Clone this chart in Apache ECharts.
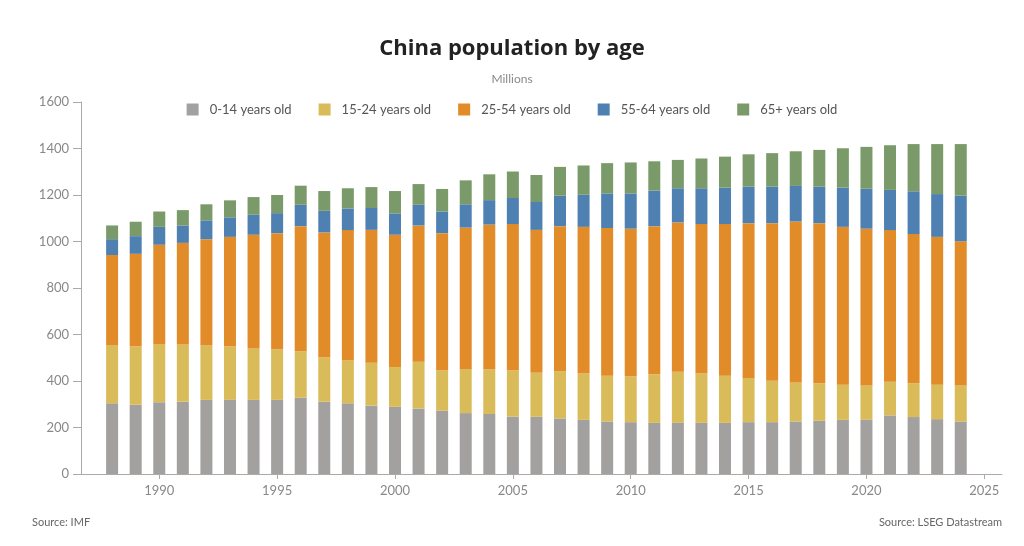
<!DOCTYPE html>
<html>
<head>
<meta charset="utf-8">
<title>China population by age</title>
<script src="https://cdn.jsdelivr.net/npm/echarts@6/dist/echarts.min.js"></script>
<style>
  html, body { margin: 0; padding: 0; background: #fff; }
  #chart { width: 1024px; height: 546px; }
</style>
</head>
<body>
<div id="chart"></div>
<script>
// population in millions
var years = ['1988', '1989', '1990', '1991', '1992', '1993', '1994', '1995', '1996', '1997', '1998', '1999',
  '2000', '2001', '2002', '2003', '2004', '2005', '2006', '2007', '2008', '2009', '2010', '2011', '2012',
  '2013', '2014', '2015', '2016', '2017', '2018', '2019', '2020', '2021', '2022', '2023', '2024'];

var age0to14 = [304, 298, 309, 311, 319, 319, 319, 319, 328, 311, 304, 294,
  289, 282, 272, 262, 258, 247, 246, 239, 233, 226, 223, 220, 220,
  220, 220, 223, 223, 226, 229, 233, 233, 252, 245, 236, 226];
var age15to24 = [251, 250, 248, 246, 235, 229, 221, 216, 200, 190, 184, 185,
  171, 201, 173, 190, 191, 198, 189, 203, 199, 197, 196, 209, 220,
  212, 203, 190, 178, 168, 162, 151, 148, 145, 146, 148, 155];
var age25to54 = [387, 399, 429, 437, 456, 472, 489, 501, 538, 538, 561, 571,
  569, 586, 591, 608, 624, 630, 615, 624, 631, 635, 636, 637, 642,
  643, 652, 666, 678, 692, 688, 679, 674, 652, 641, 636, 620];
var age55to64 = [68, 76, 77, 75, 81, 84, 86, 86, 92, 93, 93, 94,
  92, 89, 93, 100, 105, 112, 120, 131, 138, 149, 152, 153, 147,
  154, 157, 157, 157, 153, 157, 169, 172, 173, 184, 184, 196];
var age65plus = [59, 62, 66, 66, 69, 73, 76, 78, 82, 85, 87, 90,
  96, 89, 97, 103, 111, 114, 116, 124, 126, 130, 133, 126, 122,
  128, 133, 139, 144, 149, 158, 169, 180, 192, 203, 215, 222];

var seriesNames = ['0-14 years old', '15-24 years old', '25-54 years old', '55-64 years old', '65+ years old'];
var seriesColors = ['#a3a19f', '#d9bb5a', '#e28c29', '#4f80b2', '#7a9a69'];
var yearTicks = [1990, 1995, 2000, 2005, 2010, 2015, 2020, 2025];

var fontFamily = 'Lato, "Noto Sans", sans-serif';

// the visible year axis runs a bit past the bars on both sides
var W = 1024;
var plotLeft = 81, plotRight = 1002;
var xMin = 1986.68, xMax = 2025.75;
var pxPerYear = (plotRight - plotLeft) / (xMax - xMin);
// bars sit on a hidden category axis, lined up with the year axis
var firstYear = +years[0], lastYear = +years[years.length - 1];
var barLeft = plotLeft + (firstYear - 0.5 - xMin) * pxPerYear;
var barRight = plotLeft + (lastYear + 0.5 - xMin) * pxPerYear;

var allValues = [age0to14, age15to24, age25to54, age55to64, age65plus];
var series = allValues.map(function (vals, k) {
  return {
    name: seriesNames[k],
    type: 'bar',
    stack: 'pop',
    barWidth: 12,
    xAxisIndex: 1,
    yAxisIndex: 1,
    itemStyle: { color: seriesColors[k] },
    emphasis: { disabled: true },
    data: vals
  };
});

var chart = echarts.init(document.getElementById('chart'));
chart.setOption({
  animation: false,
  textStyle: { fontFamily: fontFamily },
  title: [
    {
      text: 'China population by age',
      left: 'center',
      top: 33,
      textStyle: { fontSize: 22, fontWeight: 'bold', color: '#222', fontFamily: '"Open Sans", sans-serif' }
    },
    {
      text: 'Millions',
      left: 'center',
      top: 68,
      textStyle: { fontSize: 12, fontWeight: 'normal', color: '#8a8a8a', fontFamily: fontFamily }
    },
    {
      text: 'Source: IMF',
      left: 27,
      top: 512,
      textStyle: { fontSize: 11, fontWeight: 'normal', color: '#666', fontFamily: fontFamily }
    },
    {
      text: 'Source: LSEG Datastream',
      right: 17,
      top: 512,
      textStyle: { fontSize: 11, fontWeight: 'normal', color: '#666', fontFamily: fontFamily }
    }
  ],
  legend: {
    data: seriesNames,
    left: 'center',
    top: 98,
    itemWidth: 12,
    itemHeight: 12,
    itemGap: 27,
    icon: 'rect',
    textStyle: { fontSize: 13, color: '#555', padding: [0, 0, 0, 6], fontFamily: fontFamily }
  },
  grid: [
    { left: plotLeft, right: W - plotRight, top: 102, bottom: 72 },
    { left: barLeft, right: W - barRight, top: 102, bottom: 72 }
  ],
  xAxis: [
    {
      type: 'value',
      gridIndex: 0,
      min: xMin,
      max: xMax,
      splitLine: { show: false },
      axisLine: { show: true, lineStyle: { color: '#aaa', width: 1 } },
      axisTick: { show: true, length: 5, customValues: yearTicks, lineStyle: { color: '#aaa' } },
      axisLabel: {
        customValues: yearTicks,
        formatter: function (v) { return String(v); },
        color: '#888',
        fontSize: 13,
        margin: 10,
        fontFamily: fontFamily
      }
    },
    {
      type: 'category',
      gridIndex: 1,
      data: years,
      boundaryGap: true,
      show: false
    }
  ],
  yAxis: [
    {
      type: 'value',
      gridIndex: 0,
      min: 0,
      max: 1600,
      interval: 200,
      splitLine: { show: false },
      axisLine: { show: true, lineStyle: { color: '#aaa', width: 1 } },
      axisTick: { show: true, length: 8, lineStyle: { color: '#aaa' } },
      axisLabel: {
        formatter: function (v) { return String(v); },
        color: '#888',
        fontSize: 13,
        margin: 12,
        fontFamily: fontFamily
      }
    },
    {
      type: 'value',
      gridIndex: 1,
      min: 0,
      max: 1600,
      interval: 200,
      show: false,
      splitLine: { show: false }
    }
  ],
  series: series
});
</script>
</body>
</html>
